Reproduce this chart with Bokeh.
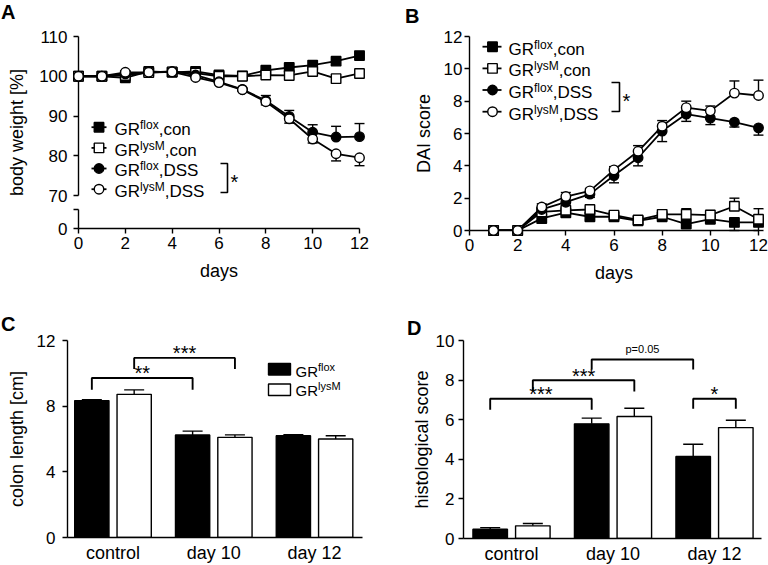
from bokeh.plotting import figure
from bokeh.layouts import column, row
from bokeh.models import Range1d, FixedTicker, Label, PrintfTickFormatter, Title
from bokeh.embed import file_html
from bokeh.resources import INLINE

FONT = "Liberation Sans"

# ---------------- data ----------------
# A: body weight [%] over days 0-12
days_a = [0, 1, 2, 3, 4, 5, 6, 7, 8, 9, 10, 11, 12]
bw_flox_con = [100.0, 100.0, 99.6, 101.2, 101.0, 101.2, 100.3, 100.1, 101.5, 102.2, 102.8, 103.8, 105.2]
bw_lysm_con = [100.0, 100.0, 100.2, 100.9, 101.1, 100.8, 100.0, 100.0, 100.3, 100.2, 101.2, 99.4, 100.7]
bw_flox_dss = [100.0, 100.0, 100.6, 101.0, 101.2, 100.3, 98.6, 96.7, 93.9, 89.9, 85.9, 84.7, 84.8]
bw_lysm_dss = [100.0, 100.0, 101.0, 101.0, 101.1, 99.7, 98.4, 96.6, 93.6, 89.3, 84.2, 80.5, 79.5]
bw_flox_con_err = [0, 0, 0, 0, 0, 0, 0, 0, 0, 0, 0, 0, 0]
bw_lysm_con_err = [0, 0, 0, 0, 0, 0, 0, 0, 0, 0, 0, 0, 0]
bw_flox_dss_err = [0, 0, 0, 0, 0, 0, 0.3, 0.3, 1.25, 1.5, 1.9, 2.7, 3.3]
bw_lysm_dss_err = [0, 0, 0, 0, 0, 0, 0.3, 0.3, 0.8, 1.1, 1.0, 1.8, 2.0]

# B: DAI score over days 1-12
days_b = [1, 2, 3, 4, 5, 6, 7, 8, 9, 10, 11, 12]
dai_flox_con = [0, 0, 0.75, 1.1, 0.85, 0.85, 0.6, 0.85, 0.4, 0.7, 0.5, 0.5]
dai_lysm_con = [0, 0, 1.15, 1.25, 1.3, 0.95, 0.65, 1.0, 1.0, 0.95, 1.5, 0.7]
dai_flox_dss = [0, 0, 1.3, 1.75, 2.25, 3.4, 4.5, 6.15, 7.2, 6.95, 6.7, 6.35]
dai_lysm_dss = [0, 0, 1.45, 2.1, 2.45, 3.75, 4.9, 6.45, 7.6, 7.4, 8.5, 8.35]
dai_flox_con_err = [0, 0, 0.3, 0.25, 0.2, 0.15, 0.15, 0.2, 0.1, 0.25, 0.5, 0.5]
dai_lysm_con_err = [0, 0, 0.2, 0.15, 0.15, 0.1, 0.1, 0.2, 0.35, 0.3, 0.5, 0.65]
dai_flox_dss_err = [0, 0, 0.25, 0.3, 0.2, 0.45, 0.5, 0.65, 0.45, 0.4, 0.3, 0.45]
dai_lysm_dss_err = [0, 0, 0.2, 0.25, 0.15, 0.2, 0.35, 0.35, 0.4, 0.3, 0.75, 0.95]

# series meta (legend text parts: main, superscript, suffix)
series_labels = [("GR", "flox", ",con"), ("GR", "lysM", ",con"),
                 ("GR", "flox", ",DSS"), ("GR", "lysM", ",DSS")]
series_markers = ["square", "square", "circle", "circle"]
series_fills = ["black", "white", "black", "white"]

# C / D: grouped bars
groups = ["control", "day 10", "day 12"]
genotypes = [("GR", "flox"), ("GR", "lysM")]
colon_flox = [8.34, 6.24, 6.20]
colon_flox_err = [0.05, 0.24, 0.06]
colon_lysm = [8.72, 6.10, 6.00]
colon_lysm_err = [0.27, 0.15, 0.20]
histo_flox = [0.47, 5.79, 4.14]
histo_flox_err = [0.08, 0.29, 0.62]
histo_lysm = [0.64, 6.16, 5.60]
histo_lysm_err = [0.12, 0.42, 0.37]

# significance brackets: (group a, genotype a, group b, genotype b, bracket level, leg end, text)
colon_sig = [(0, 0, 1, 0, 9.72, 9.0, "**"), (0, 1, 1, 1, 10.94, 10.27, "***")]
histo_sig = [(0, 0, 1, 0, 7.06, 6.5, "***"), (0, 1, 1, 1, 7.99, 7.43, "***"),
             (1, 0, 2, 0, 9.04, 8.53, "p=0.05"), (2, 0, 2, 1, 7.06, 6.55, "*")]

# ---------------- helpers ----------------
ARIAL_W = {'G': 778, 'R': 722, 'D': 722, 'S': 667, 'M': 833, 'f': 278, 'l': 222, 'o': 556,
           'x': 500, 'y': 500, 's': 500, 'c': 500, 'n': 556, ',': 278, 'p': 556, '=': 584,
           '.': 278, '*': 389, ' ': 278}


def tw(txt, size):
    return sum(ARIAL_W.get(c, 556) for c in txt) * size / 1000.0


class Geo:
    """Figure geometry in page pixels (origin, size, frame box) plus data ranges."""

    def __init__(self, ox, oy, W, H, L, R, T, B, xr, yr):
        self.ox, self.oy, self.W, self.H = ox, oy, W, H
        self.L, self.R, self.T, self.B = L, R, T, B
        self.x0, self.x1 = xr
        self.y0, self.y1 = yr

    def dx(self, px):
        return self.x0 + (px - self.L) / (self.R - self.L) * (self.x1 - self.x0)

    def dy(self, py):
        return self.y0 + (self.B - py) / (self.B - self.T) * (self.y1 - self.y0)

    def fig(self, letter, letter_x, spacer):
        p = figure(frame_width=self.R - self.L, frame_height=self.B - self.T,
                   min_border_left=self.L - self.ox, min_border_right=self.ox + self.W - self.R,
                   min_border_top=self.T - self.oy, min_border_bottom=self.oy + self.H - self.B,
                   x_range=Range1d(self.x0, self.x1), y_range=Range1d(self.y0, self.y1),
                   toolbar_location=None, output_backend="svg", title=None)
        p.outline_line_color = None
        p.xgrid.visible = False
        p.ygrid.visible = False
        p.background_fill_color = "white"
        p.border_fill_color = "white"
        # panel letter: an optional thin spacer title next to the frame, then the letter above it
        if spacer is not None:
            p.add_layout(Title(text=" ", text_font_size="1px", standoff=spacer), "above")
        p.add_layout(Title(text=letter, text_font=FONT, text_font_size="20px", text_font_style="bold",
                           text_color="black", align="left", offset=letter_x - self.L, standoff=0,
                           vertical_align="top"), "above")
        for ax in (p.xaxis[0], p.yaxis[0]):
            ax.axis_line_width = 1.4
            ax.axis_line_color = "black"
            ax.major_tick_line_width = 1.4
            ax.major_tick_line_color = "black"
            ax.major_tick_out = 5
            ax.major_tick_in = 0
            ax.minor_tick_line_color = None
            ax.major_label_text_font = FONT
            ax.major_label_text_font_size = "17px"
            ax.major_label_text_color = "black"
            ax.axis_label_text_font = FONT
            ax.axis_label_text_font_size = "18px"
            ax.axis_label_text_font_style = "normal"
            ax.axis_label_text_color = "black"
        return p


TXT_SHIFT = 3.5  # rendered alphabetic baseline sits this many px below the anchor


def label(p, x, y, text, size, align="left", xo=0, yo=0):
    p.add_layout(Label(x=x, y=y, x_offset=xo, y_offset=yo, text=text, text_font=FONT,
                       text_font_size=f"{size}px", text_color="black",
                       text_baseline="alphabetic", text_align=align))


def rich(p, g, px, base_py, parts):
    x = px
    for txt, size, rise in parts:
        if txt:
            label(p, g.dx(x), g.dy(base_py - rise - TXT_SHIFT), txt, size)
        x += tw(txt, size)


def add_err(p, xs, ys, errs, direction, cap, level="overlay"):
    xx, y0, y1 = [], [], []
    for x, y, e in zip(xs, ys, errs):
        if e > 0:
            xx.append(x)
            y0.append(y)
            y1.append(y + direction * e)
    p.segment(x0=xx, y0=y0, x1=xx, y1=y1, line_color="black", line_width=1.4, level=level)
    p.scatter(x=xx, y=y1, marker="dash", size=cap, line_color="black", line_width=1.4, level=level)


def line_panel(p, g, xs, ys_list, err_list, dirs, leg, bracket):
    for ys in ys_list:
        p.line(xs, ys, line_color="black", line_width=1.8)
    for ys, es, d in zip(ys_list, err_list, dirs):
        add_err(p, xs, ys, es, d, 10)
    for ys, m, f in zip(ys_list, series_markers, series_fills):
        p.scatter(xs, ys, marker=m, size=9.5, fill_color=f, line_color="black", line_width=1.4,
                  level="overlay")
    # legend (layout positions in page pixels)
    for (main, sup, suf), m, f, base in zip(series_labels, series_markers, series_fills, leg["baselines"]):
        cy = base - 5.8
        p.segment(x0=[g.dx(leg["line"][0])], y0=[g.dy(cy)], x1=[g.dx(leg["line"][1])], y1=[g.dy(cy)],
                  line_color="black", line_width=1.8, level="overlay")
        p.scatter([g.dx(leg["marker"])], [g.dy(cy)], marker=m, size=9.5, fill_color=f,
                  line_color="black", line_width=1.4, level="overlay")
        rich(p, g, leg["text"], base, [(main, 17, 0), (sup, 12, 4.5), (suf, 17, 0)])
    bx, by0, by1, bt, sx, sb = bracket
    p.line([g.dx(bt), g.dx(bx), g.dx(bx), g.dx(bt)], [g.dy(by0), g.dy(by0), g.dy(by1), g.dy(by1)],
           line_color="black", line_width=1.6, level="overlay")
    label(p, g.dx(sx), g.dy(sb), "*", 20, align="center")


def bar_panel(p, g, flox, flox_err, lysm, lysm_err, sig, off=0.21, width=0.34):
    xf = [i - off for i in range(len(groups))]
    xl = [i + off for i in range(len(groups))]
    p.vbar(x=xf, top=flox, bottom=0, width=width, fill_color="black", line_color="black", line_width=1.4)
    p.vbar(x=xl, top=lysm, bottom=0, width=width, fill_color="white", line_color="black", line_width=1.4)
    add_err(p, xf, flox, flox_err, 1, 20, level="glyph")
    add_err(p, xl, lysm, lysm_err, 1, 20, level="glyph")
    for ga, sa, gb, sb, lvl, leg, txt in sig:
        xa = ga + (off if sa else -off)
        xb = gb + (off if sb else -off)
        p.line([xa, xa, xb, xb], [leg, lvl, lvl, leg], line_color="black", line_width=1.9)
        if txt.startswith("p"):
            label(p, (xa + xb) / 2, lvl, txt, 11, align="center", yo=11)
        else:
            label(p, (xa + xb) / 2, lvl, txt, 20, align="center", yo=4.5)
    p.xaxis.ticker = FixedTicker(ticks=list(range(len(groups))))
    p.xaxis.major_label_overrides = {i: gname for i, gname in enumerate(groups)}
    p.xaxis.major_tick_out = 0
    p.xaxis.major_label_text_font_size = "18px"
    p.xaxis.major_label_standoff = 5


ROW1 = 300  # height of the top row (page px)

# ---------------- panel A ----------------
BRK = 70 - (228 - 195) / ((195 - 36) / 40.0)    # axis-break position used for the "0" tick
BRK_TOP = BRK + (228 - 209) / ((195 - 36) / 40.0)
gA = Geo(0, 0, 384, ROW1, 78, 359, 36, 228, (0, 12), (BRK, 110))
pA = gA.fig("A", 0.5, 9)
pA.xaxis.ticker = FixedTicker(ticks=list(range(0, 13, 2)))
pA.xaxis.axis_label = "days"
pA.xaxis.major_label_standoff = 3
pA.xaxis.axis_label_standoff = 9
pA.yaxis.ticker = FixedTicker(ticks=[BRK, BRK_TOP, 70, 80, 90, 100, 110])
pA.yaxis.formatter = PrintfTickFormatter(format="%d")
pA.yaxis.major_label_overrides = {BRK: "0", BRK_TOP: ""}
pA.yaxis.axis_label = "body weight [%]"
pA.yaxis.axis_line_color = None
pA.yaxis.major_label_standoff = 6
pA.yaxis.axis_label_standoff = 9
pA.segment(x0=[0, 0], y0=[BRK, 70], x1=[0, 0], y1=[BRK_TOP, 110], line_color="black",
           line_width=1.4, level="overlay")
line_panel(pA, gA, days_a, [bw_flox_con, bw_lysm_con, bw_flox_dss, bw_lysm_dss],
           [bw_flox_con_err, bw_lysm_con_err, bw_flox_dss_err, bw_lysm_dss_err], [1, -1, 1, -1],
           dict(line=(91, 106), marker=98.5, text=114, baselines=[132.5, 153.2, 173.8, 194.5]),
           (227, 163, 192, 220, 234, 181))

# ---------------- panel B ----------------
gB = Geo(384, 0, 384, ROW1, 469, 758, 34, 228, (0, 12), (0, 12))
pB = gB.fig("B", 404.5, 5)
pB.xaxis.ticker = FixedTicker(ticks=list(range(0, 13, 2)))
pB.xaxis.axis_label = "days"
pB.xaxis.major_label_standoff = 3
pB.xaxis.axis_label_standoff = 9
pB.yaxis.ticker = FixedTicker(ticks=list(range(0, 13, 2)))
pB.yaxis.axis_label = "DAI score"
pB.yaxis.major_label_standoff = 2
pB.yaxis.axis_label_standoff = 7
line_panel(pB, gB, days_b, [dai_flox_con, dai_lysm_con, dai_flox_dss, dai_lysm_dss],
           [dai_flox_con_err, dai_lysm_con_err, dai_flox_dss_err, dai_lysm_dss_err], [-1, 1, -1, 1],
           dict(line=(482, 501), marker=492, text=508, baselines=[50, 71.7, 93.3, 115]),
           (619, 80, 109, 611, 626, 98))

# ---------------- panel C ----------------
gC = Geo(0, ROW1, 384, 565 - ROW1, 67, 362, 340, 537, (-0.4516, 2.476), (0, 12))
pC = gC.fig("C", 0.5, 1)
pC.yaxis.ticker = FixedTicker(ticks=[0, 4, 8, 12])
pC.yaxis.axis_label = "colon length [cm]"
pC.yaxis.major_label_standoff = 7
pC.yaxis.axis_label_standoff = 7
bar_panel(pC, gC, colon_flox, colon_flox_err, colon_lysm, colon_lysm_err, colon_sig)
# legend
for (main, sup), fill, (top, bot), base in zip(genotypes, ["black", "white"], [(363, 374.5), (383.5, 395)], [374, 393.5]):
    pC.quad(left=[gC.dx(268)], right=[gC.dx(290)], top=[gC.dy(top)], bottom=[gC.dy(bot)],
            fill_color=fill, line_color="black", line_width=1.4)
    rich(pC, gC, 295, base, [(main, 15, 0), (sup, 11, 4.5)])

# ---------------- panel D ----------------
gD = Geo(384, ROW1, 384, 565 - ROW1, 463, 761, 337, 535, (-0.473, 2.463), (0, 10))
pD = gD.fig("D", 406.5, None)
pD.yaxis.ticker = FixedTicker(ticks=[0, 2, 4, 6, 8, 10])
pD.yaxis.axis_label = "histological score"
pD.yaxis.major_label_standoff = 4
pD.yaxis.axis_label_standoff = 1
bar_panel(pD, gD, histo_flox, histo_flox_err, histo_lysm, histo_lysm_err, histo_sig)

layout = column(row(pA, pB), row(pC, pD))
open("out.html", "w").write(file_html(layout, INLINE))
